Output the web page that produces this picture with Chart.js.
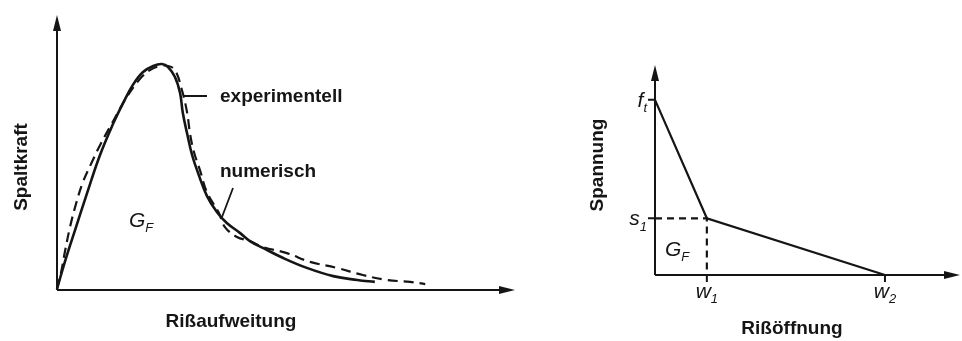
<!DOCTYPE html>
<html>
<head>
<meta charset="utf-8">
<script src="https://cdn.jsdelivr.net/npm/chart.js@4"></script>
<style>
  body { margin: 0; background: #fff; }
  #wrap { position: relative; width: 962px; height: 341px; }
  canvas { position: absolute; top: 0; }
  #left { left: 0; }
  #right { left: 540px; }
</style>
</head>
<body>
<div id="wrap">
  <canvas id="left" width="540" height="341"></canvas>
  <canvas id="right" width="422" height="341"></canvas>
</div>
<script>
// left diagram: splitting force vs. crack opening (arbitrary units)
let numX = [0, 1.7, 3.9, 6.5, 9.3, 12.1, 14.3, 16.4, 18.6, 20.8, 22.7, 24.0, 25.5, 26.6, 27.2, 28.1, 29.2, 30.5, 32.4, 34.6, 36.7, 39.6, 41.7, 44.5, 48.9, 54.0, 59.7, 64.9, 68.7];
let numY = [0, 9.9, 21.5, 35.0, 48.9, 60.2, 67.9, 74.5, 79.2, 81.4, 82.1, 81.0, 77.4, 71.5, 64.2, 56.9, 48.9, 42.3, 34.0, 28.0, 24.1, 20.4, 17.5, 15.0, 11.3, 7.7, 4.7, 3.3, 2.6];
let expX = [0, 0.9, 1.7, 2.8, 4.1, 5.6, 7.6, 9.3, 11.9, 15.1, 17.9, 20.1, 22.3, 24.0, 25.5, 27.0, 28.1, 28.8, 29.6, 30.9, 32.4, 35.0, 36.3, 38.9, 41.7, 44.5, 49.7, 54.7, 60.5, 66.1, 71.3, 76.3, 79.6];
let expY = [0, 6.2, 13.5, 22.5, 31.0, 39.0, 46.5, 52.5, 60.5, 70.1, 76.6, 79.9, 81.4, 81.4, 79.9, 72.6, 64.6, 56.2, 50.0, 43.4, 35.4, 27.7, 22.6, 19.0, 17.5, 15.3, 13.1, 9.9, 7.7, 5.1, 3.3, 2.6, 1.8];

// right diagram: bilinear softening law
let softW = [0, 17, 75.4];
let softS = [83.4, 27, 0];
let yTickValues = [83.4, 27];
let yTickLabels = [['f', 't'], ['s', '1']];
let xTickValues = [17, 75.4];
let xTickLabels = [['w', '1'], ['w', '2']];

let ink = '#151515';
let textFont = 'bold 19px "Liberation Sans", Arial, sans-serif';

function pts(xs, ys) {
    return xs.map((v, i) => ({ x: v, y: ys[i] }));
}

function arrowUp(ctx, x, y) {
    ctx.beginPath();
    ctx.moveTo(x, y);
    ctx.lineTo(x - 4, y + 16);
    ctx.lineTo(x + 4, y + 16);
    ctx.closePath();
    ctx.fill();
}

function arrowRight(ctx, x, y) {
    ctx.beginPath();
    ctx.moveTo(x, y);
    ctx.lineTo(x - 16, y - 4);
    ctx.lineTo(x - 16, y + 4);
    ctx.closePath();
    ctx.fill();
}

// italic symbol with a subscript, e.g. G_F
function symbol(ctx, main, sub, x, y, size, align) {
    ctx.font = 'italic ' + size + 'px "Liberation Sans", Arial, sans-serif';
    let w1 = ctx.measureText(main).width;
    ctx.font = 'italic ' + Math.round(size * 0.62) + 'px "Liberation Sans", Arial, sans-serif';
    let w2 = ctx.measureText(sub).width;
    let start = x;
    if (align === 'right') start = x - w1 - w2;
    if (align === 'center') start = x - (w1 + w2) / 2;
    ctx.textAlign = 'left';
    ctx.textBaseline = 'alphabetic';
    ctx.font = 'italic ' + size + 'px "Liberation Sans", Arial, sans-serif';
    ctx.fillText(main, start, y);
    ctx.font = 'italic ' + Math.round(size * 0.62) + 'px "Liberation Sans", Arial, sans-serif';
    ctx.fillText(sub, start + w1, y + size * 0.25);
}

function rotated(ctx, text, x, y) {
    ctx.save();
    ctx.translate(x, y);
    ctx.rotate(-Math.PI / 2);
    ctx.textAlign = 'center';
    ctx.textBaseline = 'middle';
    ctx.font = textFont;
    ctx.fillText(text, 0, 0);
    ctx.restore();
}

let leftDecor = {
    id: 'leftDecor',
    afterDatasetsDraw(chart) {
        let ctx = chart.ctx, a = chart.chartArea;
        let x0 = chart.scales.x.getPixelForValue(0);
        let y0 = chart.scales.y.getPixelForValue(0) + 1;
        ctx.save();
        ctx.strokeStyle = ink;
        ctx.fillStyle = ink;
        ctx.lineWidth = 2;
        ctx.beginPath();
        ctx.moveTo(x0, y0);
        ctx.lineTo(x0, a.top + 10);
        ctx.moveTo(x0, y0);
        ctx.lineTo(a.right - 10, y0);
        ctx.stroke();
        arrowUp(ctx, x0, a.top);
        arrowRight(ctx, a.right, y0);

        // leader lines
        ctx.lineWidth = 1.8;
        ctx.beginPath();
        ctx.moveTo(183, 96);
        ctx.lineTo(207, 96);
        ctx.moveTo(233, 188);
        ctx.lineTo(222, 217);
        ctx.stroke();

        ctx.font = textFont;
        ctx.textAlign = 'left';
        ctx.textBaseline = 'alphabetic';
        ctx.fillText('experimentell', 220, 102);
        ctx.fillText('numerisch', 220, 177);
        ctx.textAlign = 'center';
        ctx.fillText('Rißaufweitung', 231, 327);
        rotated(ctx, 'Spaltkraft', 22, 167);
        symbol(ctx, 'G', 'F', 129, 227, 21, 'left');
        ctx.restore();
    }
};

let rightDecor = {
    id: 'rightDecor',
    afterDatasetsDraw(chart) {
        let ctx = chart.ctx, a = chart.chartArea;
        let xs = chart.scales.x, ys = chart.scales.y;
        let x0 = xs.getPixelForValue(0);
        let y0 = ys.getPixelForValue(0);
        ctx.save();
        ctx.strokeStyle = ink;
        ctx.fillStyle = ink;
        ctx.lineWidth = 2;
        ctx.beginPath();
        ctx.moveTo(x0, y0);
        ctx.lineTo(x0, a.top + 10);
        ctx.moveTo(x0, y0);
        ctx.lineTo(a.right - 10, y0);
        ctx.stroke();
        arrowUp(ctx, x0, a.top);
        arrowRight(ctx, a.right, y0);

        // ticks and their labels
        ctx.beginPath();
        yTickValues.forEach(v => {
            let py = ys.getPixelForValue(v);
            ctx.moveTo(x0 - 7, py);
            ctx.lineTo(x0, py);
        });
        xTickValues.forEach(v => {
            let px = xs.getPixelForValue(v);
            ctx.moveTo(px, y0);
            ctx.lineTo(px, y0 + 7);
        });
        ctx.stroke();
        yTickValues.forEach((v, i) => {
            let py = ys.getPixelForValue(v);
            symbol(ctx, yTickLabels[i][0], yTickLabels[i][1], x0 - 8, py + 7, 21, 'right');
        });
        xTickValues.forEach((v, i) => {
            let px = xs.getPixelForValue(v);
            symbol(ctx, xTickLabels[i][0], xTickLabels[i][1], px, y0 + 23, 21, 'center');
        });

        ctx.font = textFont;
        ctx.textAlign = 'center';
        ctx.textBaseline = 'alphabetic';
        ctx.fillText('Rißöffnung', 252, 334);
        rotated(ctx, 'Spannung', 58, 165);
        symbol(ctx, 'G', 'F', 125, 256, 21, 'left');
        ctx.restore();
    }
};

function hiddenScales(xmax, ymax) {
    return {
        x: { type: 'linear', min: 0, max: xmax, display: false },
        y: { type: 'linear', min: 0, max: ymax, display: false }
    };
}

new Chart(document.getElementById('left').getContext('2d'), {
    type: 'scatter',
    data: {
        datasets: [{
            label: 'numerisch',
            data: pts(numX, numY),
            showLine: true,
            borderColor: ink,
            borderWidth: 2.6,
            pointRadius: 0,
            tension: 0.4,
            clip: false
        }, {
            label: 'experimentell',
            data: pts(expX, expY),
            showLine: true,
            borderColor: ink,
            borderWidth: 2.2,
            borderDash: [10, 6],
            pointRadius: 0,
            tension: 0.4,
            clip: false
        }]
    },
    options: {
        responsive: false,
        animation: false,
        layout: { padding: { left: 57, right: 25, top: 15, bottom: 52 } },
        scales: hiddenScales(99, 100),
        plugins: { legend: { display: false }, tooltip: { enabled: false } }
    },
    plugins: [leftDecor]
});

new Chart(document.getElementById('right').getContext('2d'), {
    type: 'scatter',
    data: {
        datasets: [{
            data: pts(softW, softS),
            showLine: true,
            borderColor: ink,
            borderWidth: 2.2,
            pointRadius: 0,
            clip: false
        }, {
            data: pts([0, softW[1], softW[1]], [softS[1], softS[1], 0]),
            showLine: true,
            borderColor: ink,
            borderWidth: 2.2,
            borderDash: [7, 5],
            pointRadius: 0,
            clip: false
        }]
    },
    options: {
        responsive: false,
        animation: false,
        layout: { padding: { left: 115, right: 2, top: 65, bottom: 66 } },
        scales: hiddenScales(100, 100),
        plugins: { legend: { display: false }, tooltip: { enabled: false } }
    },
    plugins: [rightDecor]
});
</script>
</body>
</html>
